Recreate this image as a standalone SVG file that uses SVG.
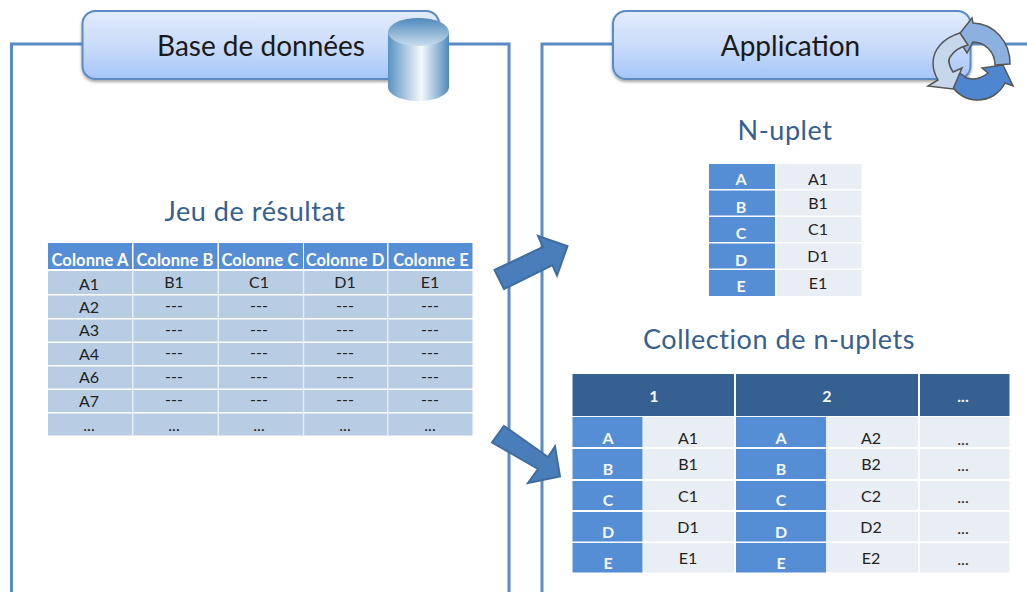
<svg xmlns="http://www.w3.org/2000/svg" width="1027" height="592" viewBox="0 0 1027 592">
<style>
text{font-family:"Lato","Open Sans","Liberation Sans",sans-serif;text-anchor:middle}
.frame{fill:none;stroke:#5b8bc4;stroke-width:3}
.hdr{fill:url(#hg);stroke:#5b8bc4;stroke-width:2;filter:url(#sh)}
.ht{font-size:28px;fill:#1a1a1a}
.st{font-size:27px;letter-spacing:0.55px;fill:#35608f}
.th{fill:#558ed5}
.tb{fill:#b8cce4}
.tl{fill:#e9edf4}
.td{fill:#366092}
.hw{font-size:16.5px;font-weight:700;fill:#fff;letter-spacing:0.1px}
.w{font-size:16px;font-weight:700;fill:#f4f8fd}
.k{font-size:16px;fill:#222}
.arrow{fill:#4a7ebb;stroke:#3f6d9f;stroke-width:2}
.cy{stroke:#555;stroke-width:1.5}
</style>
<defs>
<linearGradient id="hg" x1="0" y1="0" x2="0" y2="1"><stop offset="0" stop-color="#e2ecfc"/><stop offset="0.5" stop-color="#cadcfa"/><stop offset="1" stop-color="#a6c5f8"/></linearGradient>
<linearGradient id="cs" x1="0" y1="0" x2="1" y2="0"><stop offset="0" stop-color="#5a93c3"/><stop offset="0.55" stop-color="#f4f9fc"/><stop offset="1" stop-color="#4f89bb"/></linearGradient>
<linearGradient id="ct" x1="0" y1="0" x2="0" y2="1"><stop offset="0" stop-color="#4f89bb"/><stop offset="1" stop-color="#c8dcec"/></linearGradient>
<filter id="sh" x="-5%" y="-10%" width="110%" height="125%"><feDropShadow dx="0" dy="2" stdDeviation="1.5" flood-color="#000" flood-opacity="0.35"/></filter>
</defs>

<g id="frame-db"><path class="frame" d="M11.5 592V44H509V592"/></g>
<g id="frame-app"><path class="frame" d="M542 592V44H1027"/></g>

<g id="header-db">
<rect class="hdr" x="82.5" y="11" width="356.5" height="68" rx="13"/>
<text class="ht" x="261" y="56">Base de données</text>
</g>
<g id="icon-db">
<path d="M388 32V87C388 95 402 101 418.500 101S449 95 449 87V32Z" fill="url(#cs)"/>
<ellipse cx="418.500" cy="32" rx="30.500" ry="14" fill="url(#ct)"/>
</g>

<g id="header-app">
<rect class="hdr" x="613" y="11" width="357.500" height="68" rx="13"/>
<text class="ht" x="790.500" y="56">Application</text>
</g>
<g id="icon-app">
<path class="cy" fill="#8cb0e0" d="M1010 64A38 40 0 0 0 973 23L972 18L957 37L967 53L973 42A22 23 0 0 1 995 65Z"/>
<path class="cy" fill="#4f86d0" d="M950 84C957 94 967 100 977 100C990 100 1000 93 1005 83L1013 86L1003 65L982 68L988 73C982 78 974 80 967 78L958 72Z"/>
<path class="cy" fill="#c6d7ec" d="M960 33C943 38 933 50 933 63C933 70 935 75 938 80L928 86L953 89L962 68L953 72C949 66 948 60 950 57C953 52 960 47 968 45Z"/>
</g>

<g id="title-result"><text class="st" x="255" y="221">Jeu de résultat</text></g>
<g id="table-result">
<rect class="th" x="48" y="243" width="84" height="26"/><rect class="th" x="133.500" y="243" width="84" height="26"/><rect class="th" x="219" y="243" width="84" height="26"/><rect class="th" x="304" y="243" width="83" height="26"/><rect class="th" x="388.500" y="243" width="84" height="26"/>
<rect class="tb" x="48" y="271" width="424.500" height="23"/><rect class="tb" x="48" y="295.500" width="424.500" height="22.500"/><rect class="tb" x="48" y="319.500" width="424.500" height="22"/><rect class="tb" x="48" y="343" width="424.500" height="22"/><rect class="tb" x="48" y="366.500" width="424.500" height="22"/><rect class="tb" x="48" y="390" width="424.500" height="22"/><rect class="tb" x="48" y="413.500" width="424.500" height="22"/>
<path d="M132.700 269V436M218.200 269V436M303.500 269V436M387.700 269V436" stroke="#e6edf6" stroke-width="1.500" fill="none"/>
<text class="hw" x="90" y="266">Colonne A</text><text class="hw" x="175" y="266">Colonne B</text><text class="hw" x="260" y="266">Colonne C</text><text class="hw" x="345" y="266">Colonne D</text><text class="hw" x="431" y="266">Colonne E</text>
<text class="k" x="89" y="290">A1</text><text class="k" x="174" y="288">B1</text><text class="k" x="259" y="288">C1</text><text class="k" x="345" y="288">D1</text><text class="k" x="430" y="288">E1</text>
<text class="k" x="89" y="313">A2</text><text class="k" x="174" y="311">---</text><text class="k" x="259" y="311">---</text><text class="k" x="345" y="311">---</text><text class="k" x="430" y="311">---</text>
<text class="k" x="89" y="336">A3</text><text class="k" x="174" y="335">---</text><text class="k" x="259" y="335">---</text><text class="k" x="345" y="335">---</text><text class="k" x="430" y="335">---</text>
<text class="k" x="89" y="360">A4</text><text class="k" x="174" y="358">---</text><text class="k" x="259" y="358">---</text><text class="k" x="345" y="358">---</text><text class="k" x="430" y="358">---</text>
<text class="k" x="89" y="383">A6</text><text class="k" x="174" y="382">---</text><text class="k" x="259" y="382">---</text><text class="k" x="345" y="382">---</text><text class="k" x="430" y="382">---</text>
<text class="k" x="89" y="407">A7</text><text class="k" x="174" y="405">---</text><text class="k" x="259" y="405">---</text><text class="k" x="345" y="405">---</text><text class="k" x="430" y="405">---</text>
<text class="k" x="89" y="431">...</text><text class="k" x="174" y="431">...</text><text class="k" x="259" y="431">...</text><text class="k" x="345" y="431">...</text><text class="k" x="430" y="431">...</text>
</g>

<g id="connectors">
<path class="arrow" d="M494.500 270L543 247L538 236L567.500 246L557 275.500L552.500 265L504 289Z"/>
<path class="arrow" d="M504 426L548 457L555 446.500L560 476.500L528 483L538 469L492 442.500Z"/>
</g>

<g id="title-tuple"><text class="st" x="785" y="140">N-uplet</text></g>
<g id="table-tuple">
<rect class="th" x="709" y="164" width="66" height="25"/><rect class="th" x="709" y="190.500" width="66" height="25"/><rect class="th" x="709" y="217" width="66" height="25"/><rect class="th" x="709" y="243.500" width="66" height="25"/><rect class="th" x="709" y="270" width="66" height="26"/>
<rect class="tl" x="776.500" y="164" width="85" height="25"/><rect class="tl" x="776.500" y="190.500" width="85" height="25"/><rect class="tl" x="776.500" y="217" width="85" height="25"/><rect class="tl" x="776.500" y="243.500" width="85" height="25"/><rect class="tl" x="776.500" y="270" width="85" height="26"/>
<text class="w" x="741" y="185">A</text><text class="w" x="741" y="213">B</text><text class="w" x="741" y="239">C</text><text class="w" x="741" y="266">D</text><text class="w" x="741" y="292">E</text>
<text class="k" x="818" y="185">A1</text><text class="k" x="818" y="209">B1</text><text class="k" x="818" y="235">C1</text><text class="k" x="818" y="262">D1</text><text class="k" x="818" y="289">E1</text>
</g>

<g id="title-collection"><text class="st" x="779" y="349">Collection de n-uplets</text></g>
<g id="table-collection">
<rect class="td" x="572.500" y="374" width="161.500" height="42"/><rect class="td" x="736" y="374" width="182" height="42"/><rect class="td" x="920" y="374" width="89.500" height="42"/>
<rect class="th" x="572.500" y="417" width="70" height="30"/><rect class="th" x="572.500" y="449" width="70" height="30"/><rect class="th" x="572.500" y="481" width="70" height="29"/><rect class="th" x="572.500" y="512" width="70" height="29.500"/><rect class="th" x="572.500" y="543" width="70" height="29.500"/>
<rect class="th" x="736" y="417" width="90" height="30"/><rect class="th" x="736" y="449" width="90" height="30"/><rect class="th" x="736" y="481" width="90" height="29"/><rect class="th" x="736" y="512" width="90" height="29.500"/><rect class="th" x="736" y="543" width="90" height="29.500"/>
<rect class="tl" x="643.500" y="417" width="90.500" height="30"/><rect class="tl" x="643.500" y="449" width="90.500" height="30"/><rect class="tl" x="643.500" y="481" width="90.500" height="29"/><rect class="tl" x="643.500" y="512" width="90.500" height="29.500"/><rect class="tl" x="643.500" y="543" width="90.500" height="29.500"/>
<rect class="tl" x="826" y="417" width="92" height="30"/><rect class="tl" x="826" y="449" width="92" height="30"/><rect class="tl" x="826" y="481" width="92" height="29"/><rect class="tl" x="826" y="512" width="92" height="29.500"/><rect class="tl" x="826" y="543" width="92" height="29.500"/>
<rect class="tl" x="920" y="417" width="89.500" height="30"/><rect class="tl" x="920" y="449" width="89.500" height="30"/><rect class="tl" x="920" y="481" width="89.500" height="29"/><rect class="tl" x="920" y="512" width="89.500" height="29.500"/><rect class="tl" x="920" y="543" width="89.500" height="29.500"/>
<text class="w" x="654" y="402">1</text><text class="w" x="827" y="402">2</text><text class="w" x="963" y="402">...</text>
<text class="w" x="608" y="444">A</text><text class="w" x="608" y="475">B</text><text class="w" x="608" y="506">C</text><text class="w" x="608" y="538">D</text><text class="w" x="608" y="569">E</text>
<text class="w" x="781" y="444">A</text><text class="w" x="781" y="475">B</text><text class="w" x="781" y="506">C</text><text class="w" x="781" y="538">D</text><text class="w" x="781" y="569">E</text>
<text class="k" x="688" y="444">A1</text><text class="k" x="688" y="470">B1</text><text class="k" x="688" y="502">C1</text><text class="k" x="688" y="533">D1</text><text class="k" x="688" y="564">E1</text>
<text class="k" x="871" y="444">A2</text><text class="k" x="871" y="470">B2</text><text class="k" x="871" y="502">C2</text><text class="k" x="871" y="533">D2</text><text class="k" x="871" y="564">E2</text>
<text class="k" x="963" y="445">...</text><text class="k" x="963" y="471">...</text><text class="k" x="963" y="503">...</text><text class="k" x="963" y="534">...</text><text class="k" x="963" y="565">...</text>
</g>
</svg>
